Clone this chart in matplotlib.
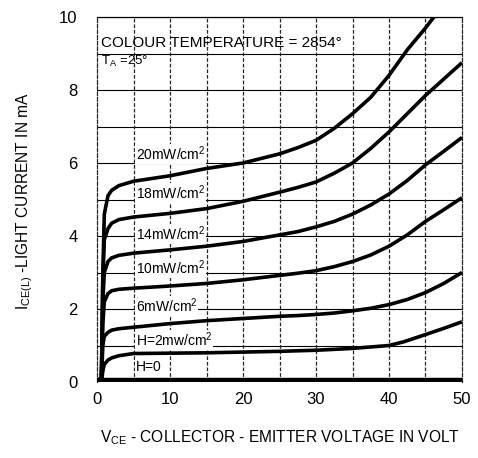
import matplotlib
matplotlib.use("Agg")
import matplotlib.pyplot as plt

plt.rcParams['font.family'] = ['Liberation Sans', 'DejaVu Sans']
plt.rcParams['mathtext.fontset'] = 'custom'
plt.rcParams['mathtext.rm'] = 'Liberation Sans'
plt.rcParams['mathtext.it'] = 'Liberation Sans'

# collector-emitter voltage (V) and light current (mA)
v_pts = [0.6, 0.8, 1.0, 1.5, 2, 3, 5, 10, 15, 20, 25, 27.5, 30, 32.5, 35,
         37.5, 40, 42.5, 45, 47.5, 50]
i_20mw = [0.0, 3.0, 4.6, 5.1, 5.25, 5.38, 5.5, 5.65, 5.85, 6.0, 6.25, 6.42, 6.62,
          6.95, 7.35, 7.8, 8.4, 9.1, 9.7, 10.35, 11.0]
i_18mw = [0.0, 2.8, 3.9, 4.2, 4.35, 4.45, 4.52, 4.62, 4.75, 4.95, 5.2, 5.33, 5.48,
          5.72, 6.0, 6.4, 6.85, 7.35, 7.85, 8.3, 8.75]
i_14mw = [0.0, 2.2, 3.0, 3.3, 3.4, 3.47, 3.53, 3.62, 3.72, 3.85, 4.03, 4.12, 4.25,
          4.4, 4.6, 4.85, 5.15, 5.52, 5.95, 6.32, 6.7]
i_10mw = [0.0, 1.6, 2.2, 2.42, 2.5, 2.54, 2.57, 2.63, 2.7, 2.8, 2.92, 2.98, 3.05,
          3.16, 3.3, 3.48, 3.72, 4.03, 4.4, 4.72, 5.05]
i_6mw = [0.0, 1.0, 1.25, 1.36, 1.42, 1.46, 1.5, 1.6, 1.68, 1.74, 1.8, 1.82, 1.85,
         1.89, 1.95, 2.02, 2.12, 2.26, 2.45, 2.7, 3.0]
v_2mw = [0.6, 0.8, 1.0, 1.5, 2, 3, 5, 10, 15, 20, 25, 30, 35, 40, 42, 45, 47.5, 50]
i_2mw = [0.0, 0.3, 0.48, 0.6, 0.66, 0.72, 0.78, 0.79, 0.8, 0.82, 0.84, 0.87, 0.92,
         1.0, 1.1, 1.3, 1.47, 1.65]
v_dark = [0.2, 50]
i_dark = [0.06, 0.06]

curves = [(v_pts, i_20mw), (v_pts, i_18mw), (v_pts, i_14mw),
          (v_pts, i_10mw), (v_pts, i_6mw), (v_2mw, i_2mw)]

labels = ["20mW/cm$^2$", "18mW/cm$^2$", "14mW/cm$^2$", "10mW/cm$^2$",
          "6mW/cm$^2$", "H=2mw/cm$^2$", "H=0"]
label_y = [6.25, 5.18, 4.05, 3.12, 2.08, 1.15, 0.41]

fig = plt.figure(figsize=(4.78, 4.58), dpi=100)
ax = fig.add_axes([97 / 478, 1 - 382 / 458, 365 / 478, 365 / 458])

# grid: solid horizontal, dashed vertical
for y in range(1, 11):
    ax.axhline(y, color='black', lw=0.8, zorder=1)
for x in range(5, 50, 5):
    ax.plot([x, x], [0, 10], color='0.15', lw=0.9, ls=(0, (3, 1.5)), zorder=1)

for v, i in curves:
    ax.plot(v, i, color='black', lw=2.6, solid_capstyle='butt',
            solid_joinstyle='round', zorder=3)
ax.plot(v_dark, i_dark, color='black', lw=3.2, zorder=3)
ax.plot([0.2, 0.6], [0.06, 0.0], color='black', lw=2.6, zorder=3)

for lab, y in zip(labels, label_y):
    ax.text(5.3, y, lab, fontsize=10, va='center', ha='left', zorder=2,
            bbox=dict(facecolor='white', edgecolor='none', pad=0.6))

ax.text(0.6, 9.3, "COLOUR TEMPERATURE = 2854°", fontsize=11, va='center', ha='left')
ax.text(0.6, 8.78, "T$_A$ =25°", fontsize=9.5, va='center', ha='left')

ax.set_xlim(0, 50)
ax.set_ylim(0, 10)
ax.set_xticks([0, 10, 20, 30, 40, 50])
ax.set_yticks([0, 2, 4, 6, 8, 10])
ax.tick_params(length=0, labelsize=12)
ax.tick_params(axis='y', pad=14)
ax.tick_params(axis='x', pad=7)

ax.spines['top'].set_linewidth(0.9)
ax.spines['bottom'].set_visible(False)
for s in ['left', 'right']:
    ax.spines[s].set_linewidth(0.9)
    ax.spines[s].set_color('0.15')
    ax.spines[s].set_linestyle((0, (3, 1.5)))

fig.text(100 / 478, 1 - 438 / 458, "V$_{CE}$ - COLLECTOR - EMITTER VOLTAGE IN VOLT",
         fontsize=11.2, ha='left', va='center')
fig.text(25 / 478, 1 - 201 / 458, "I$_{CE(L)}$ -LIGHT CURRENT IN mA",
         fontsize=11.2, ha='center', va='center', rotation=90)

fig.savefig("out.png", dpi=100, facecolor='white')
